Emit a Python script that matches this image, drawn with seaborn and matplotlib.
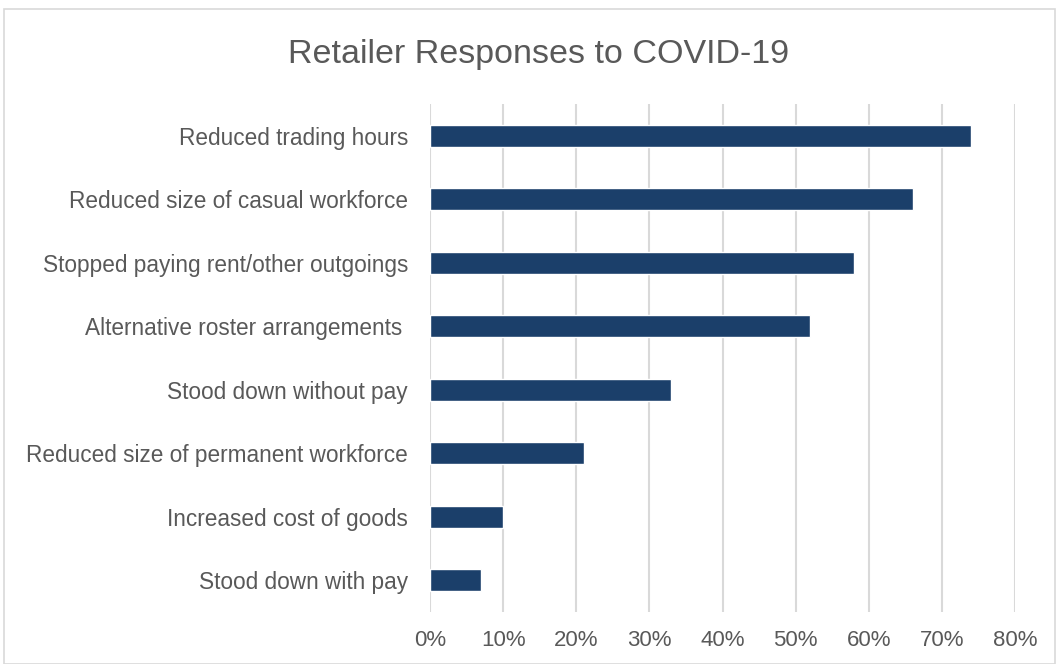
import matplotlib
matplotlib.use("Agg")
import matplotlib.pyplot as plt
import seaborn as sns
import pandas as pd
from matplotlib.patches import Rectangle
from matplotlib.ticker import FuncFormatter, MultipleLocator

categories = [
    "Reduced trading hours",
    "Reduced size of casual workforce",
    "Stopped paying rent/other outgoings",
    "Alternative roster arrangements ",
    "Stood down without pay",
    "Reduced size of permanent workforce",
    "Increased cost of goods",
    "Stood down with pay",
]
values = [0.74, 0.66, 0.58, 0.52, 0.33, 0.21, 0.10, 0.07]
title = "Retailer Responses to COVID-19"

df = pd.DataFrame({"Response": categories, "Share": values})

sns.set_theme(style="white")
plt.rcParams['font.family'] = ['Liberation Sans', 'DejaVu Sans']

fig = plt.figure(figsize=(10.59, 6.64), dpi=100)
ax = fig.add_axes([430/1059, 52/664, 585/1059, 508/664])

sns.barplot(data=df, x="Share", y="Response", orient="h", color="#1B3F6A",
            width=0.35, saturation=1, ax=ax, zorder=3)

ax.set_xlim(0, 0.8)
ax.set_ylim(7.5, -0.5)
ax.xaxis.set_major_locator(MultipleLocator(0.1))
ax.xaxis.set_major_formatter(FuncFormatter(lambda v, p: f"{v*100:.0f}%"))
ax.grid(axis="x", color="#D9D9D9", linewidth=1.5, zorder=0)
ax.grid(axis="y", visible=False)
for s in ax.spines.values():
    s.set_visible(False)
ax.set_xlabel("")
ax.set_ylabel("")
ax.tick_params(axis="x", colors="#595959", labelsize=16, pad=13, length=0)
ax.tick_params(axis="y", colors="#595959", labelsize=16.3, pad=15.8, length=0)
for t in ax.get_xticklabels() + ax.get_yticklabels():
    t.set_color("#595959")

fig.text(0.5 + 9/1059, 1 - 54/664, title, ha="center", va="center",
         fontsize=24.5, color="#595959")

fig.patches.append(Rectangle((4/1059, 0), 1 - 8/1059, 1 - 9/664, transform=fig.transFigure,
                             fill=False, edgecolor="#D9D9D9", linewidth=1.2))

fig.savefig("out.png", dpi=100)
